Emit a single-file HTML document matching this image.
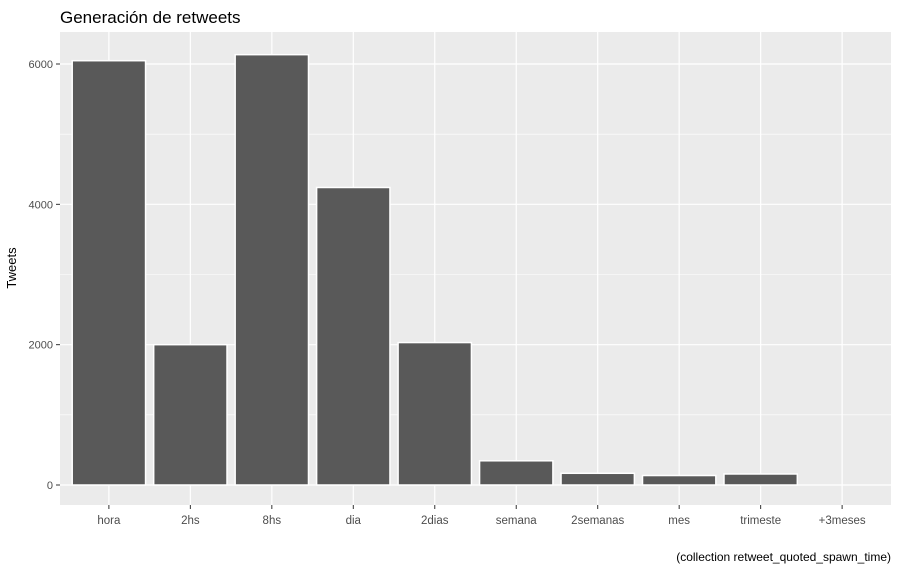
<!DOCTYPE html>
<html><head><meta charset="utf-8"><style>
html,body{margin:0;padding:0;background:#fff;}
svg{display:block;font-family:"Liberation Sans",Arial,sans-serif;}
</style></head><body>
<svg id="chart" width="899" height="571" xmlns="http://www.w3.org/2000/svg">
<text x="60" y="23" font-size="17" fill="#000">Generación de retweets</text>
<rect x="60" y="32" width="831" height="473" fill="#ebebeb"/>
<g id="grid"></g>
<g id="bars"></g>
<g id="axes"></g>
<text x="16" y="268" font-size="13" fill="#000" text-anchor="middle" transform="rotate(-90 16 268)">Tweets</text>
<text x="891" y="561" font-size="12" fill="#000" text-anchor="end">(collection retweet_quoted_spawn_time)</text>
</svg>
<script>
const categories = ["hora","2hs","8hs","dia","2dias","semana","2semanas","mes","trimeste","+3meses"];
const values = [6047,2000,6133,4240,2030,345,167,135,157,0];
const yTicks = [0,2000,4000,6000];
const yTickLabels = ["0","2000","4000","6000"];

const NS="http://www.w3.org/2000/svg";
const px0=60,px1=891,py0=32,py1=505;
const n=categories.length, step=(px1-px0)/(n+0.2);
function xC(i){return px0+step*(0.6+i);}
function yS(v){return 485-v*(421/6000);}
function mk(tag,attrs,parent){const e=document.createElementNS(NS,tag);for(const k in attrs)e.setAttribute(k,attrs[k]);parent.appendChild(e);return e;}
const grid=document.getElementById('grid'),bars=document.getElementById('bars'),axes=document.getElementById('axes');
// minor grid
for(let i=0;i<yTicks.length-1;i++){
  const y=yS((yTicks[i]+yTicks[i+1])/2);
  const l=mk('line',{x1:px0,x2:px1,y1:y,y2:y,stroke:'#fff','stroke-width':0.6},grid);
  
  
}
{const y=yS(yTicks[yTicks.length-1]+1000);if(y>py0){const l=mk('line',{x1:px0,x2:px1,y1:y,y2:y,stroke:'#fff','stroke-width':0.6},grid);

}}
yTicks.forEach((t,i)=>{
  const y=yS(t);
  const l=mk('line',{x1:px0,x2:px1,y1:y,y2:y,stroke:'#fff','stroke-width':1.2},grid);
  
  
  const tk=mk('line',{x1:px0-4,x2:px0,y1:y,y2:y,stroke:'#333','stroke-width':1},axes);
  
  
  const tx=mk('text',{x:px0-7,y:y+4,'font-size':11,fill:'#4d4d4d','text-anchor':'end'},axes);
  tx.textContent=yTickLabels[i];
  
  
});
categories.forEach((c,i)=>{
  const x=xC(i);
  const g=mk('line',{x1:x,x2:x,y1:py0,y2:py1,stroke:'#fff','stroke-width':1.2},grid);
  
  
  const w=step*0.9, y=yS(values[i]);
  if(values[i]>0){
    const r=mk('rect',{x:x-w/2,y:y,width:w,height:yS(0)-y,fill:'#595959',stroke:'#fff','stroke-width':1.5},bars);
    
    
  }
  const tk=mk('line',{x1:x,x2:x,y1:py1,y2:py1+4,stroke:'#333','stroke-width':1},axes);
  
  
  const tx=mk('text',{x:x,y:py1+19,'font-size':11.5,fill:'#4d4d4d','text-anchor':'middle'},axes);
  tx.textContent=c;
  
  
});
</script>
</body></html>
